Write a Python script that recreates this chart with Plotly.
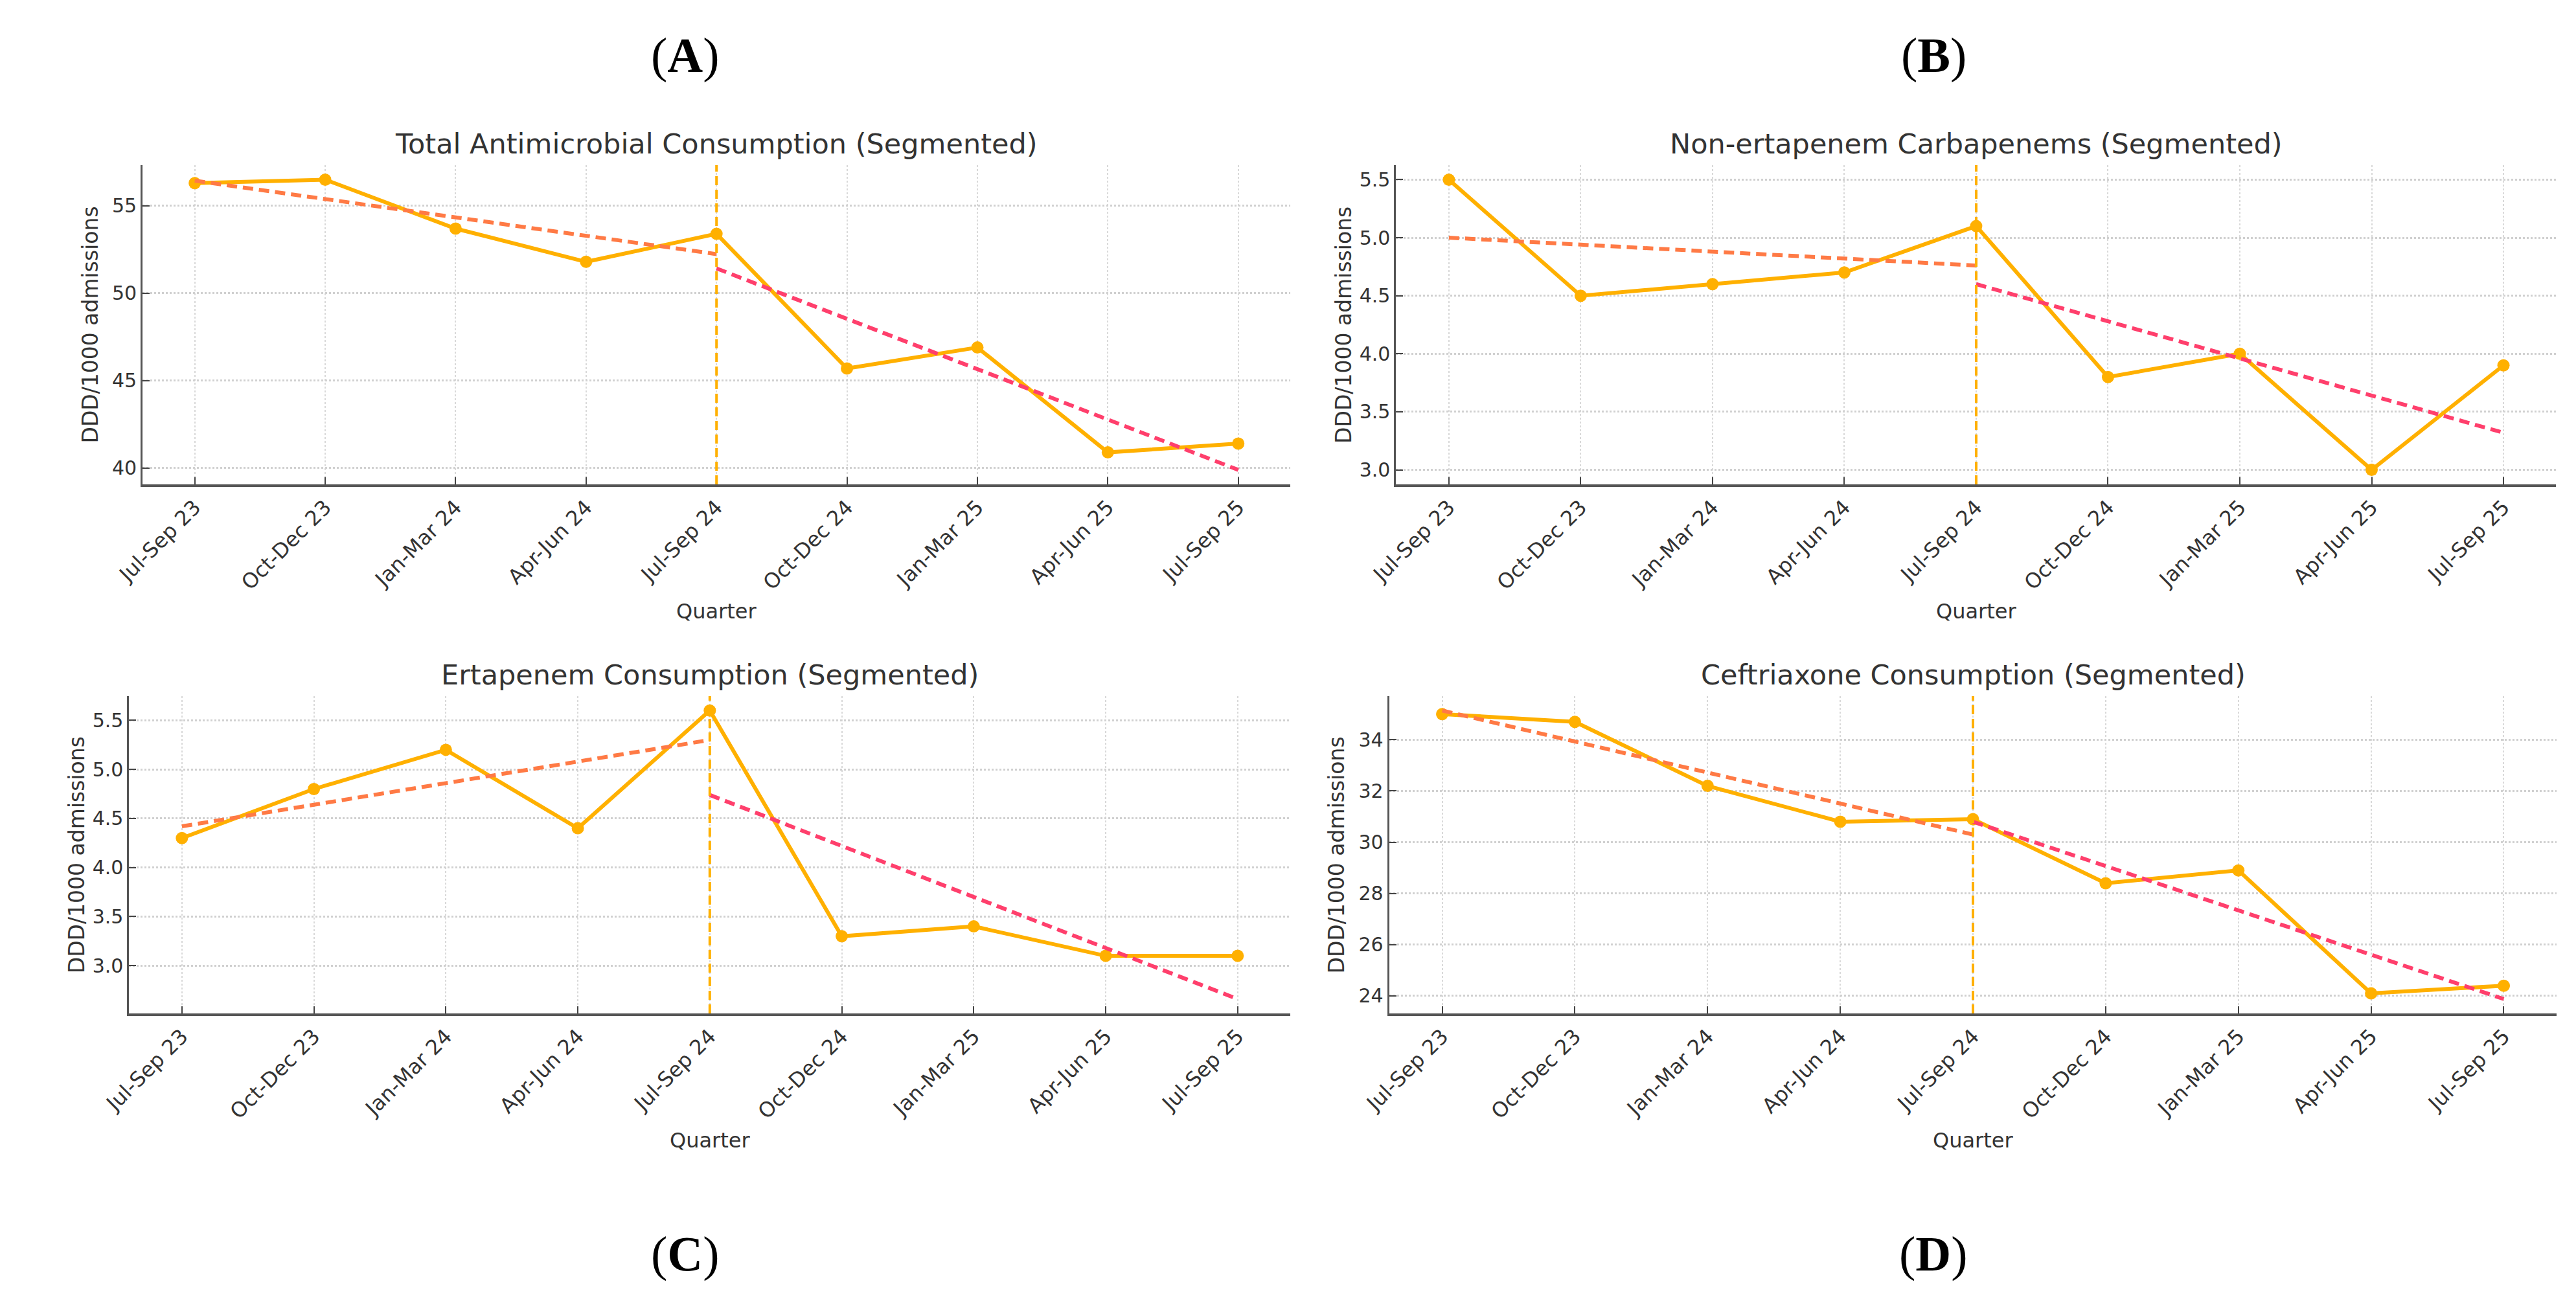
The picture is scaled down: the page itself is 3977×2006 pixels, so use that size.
import numpy as np
import plotly.graph_objects as go

quarters = ["Jul-Sep 23", "Oct-Dec 23", "Jan-Mar 24", "Apr-Jun 24", "Jul-Sep 24",
            "Oct-Dec 24", "Jan-Mar 25", "Apr-Jun 25", "Jul-Sep 25"]

total_amc = [56.3, 56.5, 53.7, 51.8, 53.4, 45.7, 46.9, 40.9, 41.4]
non_ertapenem = [5.5, 4.5, 4.6, 4.7, 5.1, 3.8, 4.0, 3.0, 3.9]
ertapenem = [4.3, 4.8, 5.2, 4.4, 5.6, 3.3, 3.4, 3.1, 3.1]
ceftriaxone = [35.0, 34.7, 32.2, 30.8, 30.9, 28.4, 28.9, 24.1, 24.4]

titles = ["Total Antimicrobial Consumption (Segmented)",
          "Non-ertapenem Carbapenems (Segmented)",
          "Ertapenem Consumption (Segmented)",
          "Ceftriaxone Consumption (Segmented)"]
panel_labels = ["A", "B", "C", "D"]
ytick_step = [5, 0.5, 0.5, 2]
ytick_fmt = ["d", ".1f", ".1f", "d"]

breakpoint = 4  # Jul-Sep 24

W, H = 3977, 2006
# plot areas in pixels: left, right, top, bottom
boxes = [(170, 1962, 247, 740), (2127, 3938, 247, 740),
         (149, 1962, 1067, 1557), (2116, 3939, 1067, 1557)]
label_pos = [(1017, 78), (2966, 78), (1017, 1928), (2966, 1928)]

LINE = "#FFB000"
TREND1 = "#FF7A45"
TREND2 = "#FF3F6C"
TXT = "#333333"


def fx(p):
    return p / W


def fy(p):
    return 1 - p / H


fig = go.Figure()
x = np.arange(len(quarters))
annotations = []
shapes = []
layout = {}

for i, ys in enumerate([total_amc, non_ertapenem, ertapenem, ceftriaxone]):
    n = "" if i == 0 else str(i + 1)
    xa, ya = "x" + n, "y" + n
    ys = np.array(ys)

    fig.add_trace(go.Scatter(x=x, y=ys, mode="lines+markers", xaxis=xa, yaxis=ya,
                             line=dict(color=LINE, width=6),
                             marker=dict(color=LINE, size=19), showlegend=False))

    # segmented linear trends before / after the intervention
    ends = []
    for seg, col in [(x[:breakpoint + 1], TREND1), (x[breakpoint:], TREND2)]:
        k, b = np.polyfit(seg, ys[seg], 1)
        xs = np.array([seg[0], seg[-1]])
        fig.add_trace(go.Scatter(x=xs, y=k * xs + b, mode="lines", xaxis=xa, yaxis=ya,
                                 line=dict(color=col, width=6, dash="16px,9px"),
                                 showlegend=False))
        ends += list(k * xs + b)

    lo = min(ys.min(), min(ends))
    hi = max(ys.max(), max(ends))
    pad = (hi - lo) * 0.05

    l, r, t, btm = boxes[i]
    layout["xaxis" + n] = dict(
        domain=[fx(l), fx(r)], anchor=ya, range=[-0.4, 8.4],
        tickvals=list(x), ticktext=quarters, tickangle=-45,
        tickfont=dict(family="DejaVu Sans", size=32, color=TXT),
        showline=True, linecolor="#555555", linewidth=4,
        ticks="inside", ticklen=11, tickwidth=2, tickcolor="#444444",
        showgrid=True, gridcolor="#d9d9d9", gridwidth=2, griddash="dot",
        zeroline=False)
    layout["yaxis" + n] = dict(
        domain=[fy(btm), fy(t)], anchor=xa, range=[lo - pad, hi + pad],
        dtick=ytick_step[i], tickformat=ytick_fmt[i],
        tickfont=dict(family="DejaVu Sans", size=30, color=TXT),
        showline=True, linecolor="#555555", linewidth=3,
        ticks="inside", ticklen=11, tickwidth=2, tickcolor="#444444",
        showgrid=True, gridcolor="#d0d0d0", gridwidth=3, griddash="dot",
        zeroline=False)

    shapes.append(dict(type="line", xref=xa, yref=ya + " domain",
                       x0=breakpoint, x1=breakpoint, y0=0, y1=1,
                       line=dict(color=LINE, width=4, dash="14px,7px")))

    cx = (l + r) / 2
    annotations.append(dict(text=titles[i], x=fx(cx), y=fy(t - 33), xref="paper", yref="paper",
                            xanchor="center", yanchor="middle", showarrow=False,
                            font=dict(family="DejaVu Sans", size=43, color=TXT)))
    annotations.append(dict(text="Quarter", x=fx(cx), y=fy(btm + 196), xref="paper", yref="paper",
                            xanchor="center", yanchor="middle", showarrow=False,
                            font=dict(family="DejaVu Sans", size=32, color=TXT)))
    annotations.append(dict(text="DDD/1000 admissions", x=fx(l - 82), y=fy((t + btm) / 2),
                            xref="paper", yref="paper", textangle=-90,
                            xanchor="center", yanchor="middle", showarrow=False,
                            font=dict(family="DejaVu Sans", size=33, color=TXT)))
    lx, ly = label_pos[i]
    annotations.append(dict(text="(<b>" + panel_labels[i] + "</b>)", x=fx(lx), y=fy(ly),
                            xref="paper", yref="paper", xanchor="center", yanchor="middle",
                            showarrow=False,
                            font=dict(family="Liberation Serif", size=76, color="black")))

fig.update_layout(
    width=W, height=H,
    margin=dict(l=0, r=0, t=0, b=0),
    paper_bgcolor="white", plot_bgcolor="white",
    annotations=annotations, shapes=shapes,
    **layout
)

fig.write_html("out.html")
